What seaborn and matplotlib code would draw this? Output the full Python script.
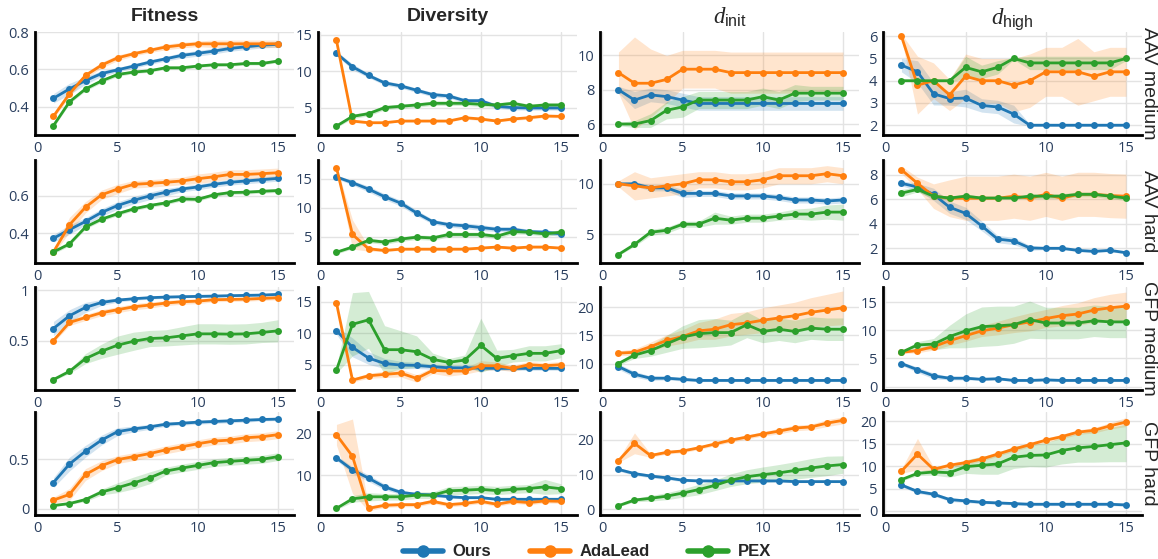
import numpy as np
import pandas as pd
import seaborn as sns
import matplotlib
matplotlib.use("Agg")
import matplotlib.pyplot as plt
from matplotlib.lines import Line2D

sns.set_theme(style="white")
plt.rcParams['font.family'] = ['Liberation Sans', 'DejaVu Sans']
plt.rcParams['mathtext.fontset'] = 'custom'
plt.rcParams['mathtext.rm'] = 'Liberation Sans'
plt.rcParams['mathtext.it'] = 'Liberation Serif:italic'
plt.rcParams['mathtext.bf'] = 'Liberation Sans:bold'

# ---------------- data ----------------
ROUNDS = list(range(1, 16))
METHODS = ["Ours", "AdaLead", "PEX"]
COLORS = ["#1f77b4", "#ff7f0e", "#2ca02c"]
METRIC_TITLES = ["Fitness", "Diversity", r"$d_{\mathrm{init}}$", r"$d_{\mathrm{high}}$"]
TASKS = ["AAV medium", "AAV hard", "GFP medium", "GFP hard"]
X_TICKS = [0, 5, 10, 15]

# Fitness
FIT_AAVM_OURS = [0.446, 0.496, 0.541, 0.578, 0.598, 0.618, 0.639, 0.657, 0.675, 0.686, 0.698, 0.712, 0.721, 0.730, 0.734]
FIT_AAVM_ADA = [0.350, 0.470, 0.568, 0.623, 0.662, 0.684, 0.702, 0.720, 0.730, 0.737, 0.737, 0.737, 0.737, 0.737, 0.737]
FIT_AAVM_PEX = [0.300, 0.427, 0.496, 0.539, 0.573, 0.586, 0.593, 0.609, 0.609, 0.618, 0.625, 0.625, 0.632, 0.632, 0.645]
FIT_AAVM_OURS_SD = [0.025, 0.03, 0.02, 0.015, 0.012, 0.012, 0.012, 0.012, 0.015, 0.015, 0.015, 0.015, 0.015, 0.015, 0.015]
FIT_AAVM_ADA_SD = [0.01, 0.015, 0.015, 0.015, 0.015, 0.012, 0.012, 0.015, 0.015, 0.015, 0.02, 0.02, 0.02, 0.02, 0.02]
FIT_AAVM_PEX_SD = [0.01, 0.01, 0.01, 0.01, 0.01, 0.008, 0.008, 0.008, 0.008, 0.008, 0.008, 0.008, 0.008, 0.008, 0.008]

FIT_AAVH_OURS = [0.372, 0.418, 0.462, 0.510, 0.547, 0.575, 0.598, 0.618, 0.635, 0.646, 0.660, 0.671, 0.678, 0.685, 0.692]
FIT_AAVH_ADA = [0.299, 0.444, 0.538, 0.604, 0.635, 0.660, 0.665, 0.671, 0.678, 0.690, 0.700, 0.713, 0.713, 0.717, 0.722]
FIT_AAVH_PEX = [0.299, 0.342, 0.432, 0.474, 0.503, 0.529, 0.547, 0.561, 0.582, 0.580, 0.604, 0.616, 0.618, 0.623, 0.627]
FIT_AAVH_OURS_SD = [0.02, 0.025, 0.02, 0.02, 0.02, 0.02, 0.02, 0.02, 0.015, 0.015, 0.015, 0.015, 0.015, 0.015, 0.015]
FIT_AAVH_ADA_SD = [0.01, 0.04, 0.03, 0.025, 0.025, 0.02, 0.02, 0.02, 0.02, 0.025, 0.025, 0.025, 0.025, 0.025, 0.025]
FIT_AAVH_PEX_SD = [0.01, 0.01, 0.01, 0.01, 0.01, 0.01, 0.01, 0.01, 0.01, 0.01, 0.01, 0.01, 0.01, 0.01, 0.01]

FIT_GFPM_OURS = [0.619, 0.745, 0.828, 0.877, 0.900, 0.914, 0.924, 0.930, 0.934, 0.937, 0.940, 0.944, 0.947, 0.950, 0.957]
FIT_GFPM_ADA = [0.500, 0.679, 0.728, 0.775, 0.805, 0.834, 0.851, 0.871, 0.884, 0.890, 0.904, 0.907, 0.910, 0.917, 0.924]
FIT_GFPM_PEX = [0.113, 0.195, 0.321, 0.394, 0.454, 0.493, 0.520, 0.526, 0.546, 0.566, 0.566, 0.563, 0.566, 0.580, 0.596]
FIT_GFPM_OURS_SD = [0.07, 0.06, 0.05, 0.03, 0.02, 0.015, 0.015, 0.012, 0.012, 0.01, 0.01, 0.01, 0.01, 0.01, 0.01]
FIT_GFPM_ADA_SD = [0.02, 0.03, 0.03, 0.03, 0.03, 0.03, 0.03, 0.025, 0.025, 0.025, 0.02, 0.02, 0.02, 0.02, 0.02]
FIT_GFPM_PEX_SD = [0.01, 0.02, 0.05, 0.07, 0.09, 0.09, 0.08, 0.08, 0.09, 0.10, 0.10, 0.10, 0.10, 0.10, 0.11]

FIT_GFPH_OURS = [0.264, 0.452, 0.582, 0.695, 0.781, 0.808, 0.829, 0.856, 0.866, 0.877, 0.884, 0.890, 0.897, 0.904, 0.908]
FIT_GFPH_ADA = [0.086, 0.144, 0.346, 0.435, 0.497, 0.527, 0.558, 0.596, 0.627, 0.658, 0.685, 0.695, 0.719, 0.729, 0.750]
FIT_GFPH_PEX = [0.031, 0.051, 0.092, 0.168, 0.212, 0.260, 0.312, 0.380, 0.411, 0.438, 0.466, 0.479, 0.490, 0.500, 0.527]
FIT_GFPH_OURS_SD = [0.05, 0.07, 0.06, 0.05, 0.04, 0.03, 0.025, 0.02, 0.02, 0.02, 0.02, 0.02, 0.02, 0.015, 0.015]
FIT_GFPH_ADA_SD = [0.03, 0.06, 0.06, 0.05, 0.04, 0.04, 0.04, 0.04, 0.04, 0.04, 0.04, 0.04, 0.04, 0.04, 0.04]
FIT_GFPH_PEX_SD = [0.01, 0.01, 0.02, 0.03, 0.05, 0.06, 0.06, 0.04, 0.04, 0.04, 0.04, 0.04, 0.04, 0.04, 0.04]

# Diversity
DIV_AAVM_OURS = [12.48, 10.64, 9.45, 8.44, 8.03, 7.43, 6.83, 6.65, 6.0, 6.0, 5.23, 5.05, 5.0, 5.0, 5.0]
DIV_AAVM_ADA = [14.27, 3.21, 2.98, 2.98, 3.21, 3.21, 3.21, 3.21, 3.67, 3.49, 3.21, 3.49, 3.67, 3.9, 3.85]
DIV_AAVM_PEX = [2.52, 3.85, 4.22, 5.05, 5.23, 5.41, 5.64, 5.64, 5.64, 5.5, 5.41, 5.64, 5.23, 5.41, 5.41]
DIV_AAVM_OURS_SD = [0.3, 0.4, 0.3, 0.3, 0.3, 0.3, 0.3, 0.3, 0.3, 0.3, 0.3, 0.3, 0.3, 0.3, 0.3]
DIV_AAVM_ADA_SD = [0.2, 0.2, 0.1, 0.1, 0.1, 0.1, 0.1, 0.1, 0.2, 0.2, 0.1, 0.2, 0.2, 0.2, 0.2]
DIV_AAVM_PEX_SD = [0.2, 0.3, 0.3, 0.3, 0.3, 0.3, 0.3, 0.3, 0.3, 0.3, 0.3, 0.3, 0.3, 0.3, 0.3]

DIV_AAVH_OURS = [15.3, 14.3, 13.2, 11.9, 10.8, 9.1, 7.6, 7.1, 6.9, 6.6, 6.3, 6.3, 5.9, 5.8, 5.5]
DIV_AAVH_ADA = [16.9, 5.4, 2.94, 2.65, 2.88, 2.88, 2.88, 2.88, 2.88, 3.06, 3.24, 3.06, 3.24, 3.24, 3.06]
DIV_AAVH_PEX = [2.35, 3.24, 4.4, 4.1, 4.6, 4.94, 4.8, 5.4, 5.4, 5.4, 5.1, 5.9, 5.8, 5.5, 5.8]
DIV_AAVH_OURS_SD = [0.3, 0.4, 0.5, 0.5, 0.5, 0.5, 0.4, 0.4, 0.5, 0.5, 0.4, 0.4, 0.4, 0.4, 0.4]
DIV_AAVH_ADA_SD = [0.3, 2.5, 0.4, 0.2, 0.2, 0.2, 0.2, 0.2, 0.2, 0.2, 0.2, 0.2, 0.2, 0.2, 0.2]
DIV_AAVH_PEX_SD = [0.3, 0.3, 0.4, 0.4, 0.4, 0.4, 0.4, 0.4, 0.4, 0.4, 0.4, 0.4, 0.4, 0.4, 0.4]

DIV_GFPM_OURS = [10.4, 7.75, 6.06, 5.2, 4.95, 4.9, 4.68, 4.52, 4.52, 4.47, 4.42, 4.42, 4.42, 4.42, 4.42]
DIV_GFPM_ADA = [14.8, 2.57, 3.25, 3.47, 3.68, 2.83, 4.1, 4.0, 4.0, 4.84, 4.84, 4.42, 5.0, 4.84, 5.0]
DIV_GFPM_PEX = [4.15, 11.4, 12.1, 7.38, 7.38, 7.06, 5.85, 5.37, 5.74, 8.07, 6.0, 6.43, 6.8, 6.8, 7.22]
DIV_GFPM_OURS_SD = [0.6, 1.5, 1.0, 0.8, 0.6, 0.5, 0.4, 0.3, 0.3, 0.3, 0.3, 0.3, 0.3, 0.3, 0.3]
DIV_GFPM_ADA_SD = [0.3, 0.3, 0.4, 0.5, 0.6, 0.6, 0.5, 0.8, 0.5, 0.8, 0.6, 0.5, 0.5, 0.5, 0.5]
DIV_GFPM_PEX_SD = [0.5, 5.0, 4.5, 3.8, 3.0, 2.5, 1.0, 0.6, 0.8, 4.3, 1.3, 1.0, 1.2, 1.2, 1.1]

DIV_GFPH_OURS = [14.2, 11.3, 9.3, 7.2, 5.9, 5.4, 5.25, 4.8, 4.6, 4.6, 4.2, 4.2, 4.2, 4.2, 4.2]
DIV_GFPH_ADA = [19.8, 14.6, 2.0, 2.75, 2.9, 2.9, 3.7, 2.9, 3.2, 3.7, 3.0, 3.7, 3.4, 3.8, 3.7]
DIV_GFPH_PEX = [2.0, 4.3, 4.8, 4.8, 4.8, 5.2, 5.2, 6.25, 6.4, 6.6, 6.3, 6.6, 6.8, 7.2, 6.75]
DIV_GFPH_OURS_SD = [0.6, 0.8, 0.8, 0.7, 0.5, 0.4, 0.4, 0.3, 0.3, 0.3, 0.3, 0.3, 0.3, 0.3, 0.3]
DIV_GFPH_ADA_SD = [2.5, 9.0, 0.6, 0.5, 0.5, 0.5, 0.5, 0.5, 0.5, 0.5, 0.5, 0.5, 0.5, 0.5, 0.5]
DIV_GFPH_PEX_SD = [0.3, 0.8, 1.0, 0.8, 0.8, 0.8, 0.8, 1.0, 1.0, 1.0, 1.0, 1.0, 1.0, 1.8, 1.2]

# d_init
DINIT_AAVM_OURS = [8.0, 7.4, 7.7, 7.6, 7.4, 7.2, 7.2, 7.2, 7.2, 7.2, 7.2, 7.2, 7.2, 7.2, 7.2]
DINIT_AAVM_ADA = [9.0, 8.38, 8.38, 8.6, 9.2, 9.2, 9.2, 9.0, 9.0, 9.0, 9.0, 9.0, 9.0, 9.0, 9.0]
DINIT_AAVM_PEX = [6.0, 6.0, 6.2, 6.8, 7.0, 7.4, 7.4, 7.4, 7.4, 7.6, 7.4, 7.8, 7.8, 7.8, 7.8]
DINIT_AAVM_OURS_SD = [0.2, 0.5, 0.4, 0.4, 0.4, 0.4, 0.4, 0.4, 0.4, 0.4, 0.4, 0.4, 0.4, 0.4, 0.4]
DINIT_AAVM_ADA_SD = [1.2, 2.7, 2.0, 1.4, 1.1, 1.1, 1.1, 1.2, 1.2, 1.2, 1.2, 1.2, 1.2, 1.2, 1.2]
DINIT_AAVM_PEX_SD = [0.1, 0.2, 0.4, 0.5, 0.6, 0.5, 0.5, 0.5, 0.5, 0.5, 0.5, 0.5, 0.4, 0.4, 0.4]

DINIT_AAVH_OURS = [10.0, 10.0, 9.6, 9.6, 9.05, 9.05, 9.05, 8.8, 8.8, 8.8, 8.65, 8.4, 8.4, 8.3, 8.4]
DINIT_AAVH_ADA = [10.0, 9.8, 9.6, 9.8, 10.0, 10.4, 10.4, 10.2, 10.2, 10.4, 10.8, 10.8, 10.8, 11.0, 10.8]
DINIT_AAVH_PEX = [3.0, 4.0, 5.2, 5.4, 6.0, 6.0, 6.6, 6.4, 6.6, 6.6, 6.8, 7.0, 7.0, 7.2, 7.2]
DINIT_AAVH_OURS_SD = [0.1, 0.2, 0.3, 0.3, 0.4, 0.3, 0.3, 0.3, 0.3, 0.3, 0.3, 0.3, 0.3, 0.3, 0.3]
DINIT_AAVH_ADA_SD = [0.3, 1.4, 1.0, 1.0, 1.0, 0.8, 0.8, 0.8, 0.8, 0.8, 0.8, 0.8, 0.8, 0.8, 0.8]
DINIT_AAVH_PEX_SD = [0.1, 0.2, 0.3, 0.3, 0.3, 0.3, 0.6, 0.4, 0.4, 0.4, 0.4, 0.5, 0.6, 0.7, 0.8]

DINIT_GFPM_OURS = [9.46, 8.1, 7.4, 7.4, 7.2, 7.0, 7.0, 7.0, 7.0, 7.0, 7.0, 7.0, 7.0, 7.0, 7.0]
DINIT_GFPM_ADA = [11.85, 12.0, 13.0, 14.1, 14.8, 15.8, 16.1, 16.9, 17.2, 17.7, 18.1, 18.5, 19.1, 19.5, 19.9]
DINIT_GFPM_PEX = [10.0, 11.5, 12.3, 13.5, 14.7, 15.3, 15.5, 15.5, 16.9, 15.7, 16.1, 15.7, 16.3, 16.1, 16.1]
DINIT_GFPM_OURS_SD = [0.5, 0.5, 0.4, 0.3, 0.3, 0.2, 0.2, 0.2, 0.2, 0.2, 0.2, 0.2, 0.2, 0.2, 0.2]
DINIT_GFPM_ADA_SD = [0.4, 0.6, 0.8, 1.0, 1.2, 1.5, 1.8, 2.0, 2.0, 2.2, 2.3, 2.4, 2.6, 2.8, 3.0]
DINIT_GFPM_PEX_SD = [0.3, 0.6, 1.0, 1.5, 2.0, 2.5, 2.5, 2.2, 2.3, 2.0, 2.0, 2.0, 2.0, 2.0, 2.0]

DINIT_GFPH_OURS = [11.5, 10.3, 9.6, 9.1, 8.4, 8.2, 8.2, 8.2, 8.2, 8.2, 8.2, 8.0, 8.0, 8.0, 8.0]
DINIT_GFPH_ADA = [14.0, 19.0, 15.5, 16.4, 16.8, 17.7, 18.8, 19.9, 20.8, 21.7, 22.5, 23.4, 23.7, 24.8, 25.6]
DINIT_GFPH_PEX = [1.06, 2.7, 3.2, 3.8, 4.7, 5.7, 6.9, 8.4, 9.4, 10.0, 10.5, 11.2, 11.9, 12.5, 12.9]
DINIT_GFPH_OURS_SD = [0.5, 0.5, 0.5, 0.5, 0.4, 0.3, 0.3, 0.3, 0.3, 0.3, 0.3, 0.3, 0.3, 0.3, 0.3]
DINIT_GFPH_ADA_SD = [0.5, 3.0, 0.5, 0.5, 0.5, 0.5, 0.5, 0.6, 0.6, 0.6, 0.8, 0.8, 0.8, 1.0, 1.0]
DINIT_GFPH_PEX_SD = [0.3, 0.5, 0.8, 1.0, 1.2, 1.5, 1.5, 1.8, 2.0, 2.2, 2.4, 2.5, 2.7, 2.8, 2.5]

# d_high
DHIGH_AAVM_OURS = [4.7, 4.4, 3.41, 3.2, 3.22, 2.89, 2.82, 2.5, 2.0, 2.0, 2.0, 2.0, 2.0, 2.0, 2.0]
DHIGH_AAVM_ADA = [6.0, 3.8, 4.0, 3.36, 4.2, 4.0, 4.0, 3.8, 4.0, 4.4, 4.4, 4.4, 4.2, 4.4, 4.4]
DHIGH_AAVM_PEX = [4.0, 4.0, 4.0, 4.0, 4.6, 4.4, 4.6, 5.0, 4.8, 4.8, 4.8, 4.8, 4.8, 4.8, 5.0]
DHIGH_AAVM_OURS_SD = [0.3, 0.5, 0.5, 0.3, 0.4, 0.3, 0.3, 0.4, 0.05, 0.05, 0.05, 0.05, 0.05, 0.05, 0.05]
DHIGH_AAVM_ADA_SD = [0.1, 1.3, 0.8, 0.7, 1.0, 1.0, 1.0, 1.2, 1.2, 1.1, 1.1, 1.5, 1.1, 1.1, 1.1]
DHIGH_AAVM_PEX_SD = [0.05, 0.05, 0.05, 0.05, 0.5, 0.3, 0.3, 0.05, 0.3, 0.3, 0.3, 0.3, 0.3, 0.3, 0.1]

DHIGH_AAVH_OURS = [7.3, 7.0, 6.4, 5.35, 4.85, 3.83, 2.75, 2.6, 2.03, 2.0, 2.0, 1.83, 1.75, 1.83, 1.64]
DHIGH_AAVH_ADA = [8.4, 7.3, 6.25, 6.08, 6.08, 6.08, 6.08, 6.25, 6.08, 6.4, 6.08, 6.4, 6.4, 6.3, 6.25]
DHIGH_AAVH_PEX = [6.5, 6.8, 6.25, 6.1, 6.25, 6.1, 6.1, 6.1, 6.25, 6.25, 6.25, 6.4, 6.4, 6.25, 6.1]
DHIGH_AAVH_OURS_SD = [0.2, 0.3, 0.5, 0.5, 0.5, 0.4, 0.3, 0.3, 0.2, 0.1, 0.1, 0.1, 0.1, 0.1, 0.1]
DHIGH_AAVH_ADA_SD = [0.3, 0.5, 1.0, 1.5, 1.8, 1.8, 1.8, 1.8, 1.8, 1.8, 1.8, 1.8, 1.8, 1.8, 1.8]
DHIGH_AAVH_PEX_SD = [0.3, 0.2, 0.2, 0.1, 0.2, 0.1, 0.1, 0.1, 0.2, 0.2, 0.2, 0.2, 0.2, 0.2, 0.2]

DHIGH_GFPM_OURS = [4.1, 3.0, 1.9, 1.5, 1.5, 1.3, 1.4, 1.1, 1.1, 1.2, 1.1, 1.1, 1.1, 1.1, 1.1]
DHIGH_GFPM_ADA = [6.1, 6.4, 7.1, 8.15, 9.05, 9.9, 10.4, 11.0, 11.5, 12.1, 12.6, 12.9, 13.6, 14.0, 14.3]
DHIGH_GFPM_PEX = [6.1, 7.4, 7.55, 8.9, 9.9, 10.65, 10.8, 11.0, 11.9, 11.3, 11.3, 11.3, 11.7, 11.5, 11.5]
DHIGH_GFPM_OURS_SD = [0.3, 0.5, 0.5, 0.3, 0.3, 0.2, 0.2, 0.2, 0.2, 0.2, 0.2, 0.2, 0.2, 0.2, 0.2]
DHIGH_GFPM_ADA_SD = [0.2, 0.4, 0.6, 0.8, 1.0, 1.0, 1.2, 1.4, 1.6, 1.6, 1.8, 2.0, 2.2, 2.4, 2.5]
DHIGH_GFPM_PEX_SD = [0.2, 0.6, 1.0, 2.0, 3.0, 3.5, 3.5, 3.3, 3.3, 2.8, 2.8, 2.8, 2.8, 2.8, 2.8]

DHIGH_GFPH_OURS = [5.8, 4.35, 3.75, 2.55, 2.25, 1.95, 1.8, 1.65, 1.5, 1.5, 1.5, 1.5, 1.5, 1.5, 1.35]
DHIGH_GFPH_ADA = [8.9, 12.7, 9.3, 10.2, 10.8, 11.6, 12.7, 13.8, 14.8, 15.8, 16.6, 17.6, 18.0, 19.0, 19.85]
DHIGH_GFPH_PEX = [7.0, 8.4, 8.7, 8.55, 9.9, 10.2, 10.5, 12.0, 12.4, 12.5, 13.5, 14.1, 14.4, 14.8, 15.2]
DHIGH_GFPH_OURS_SD = [0.4, 0.4, 0.4, 0.4, 0.4, 0.3, 0.3, 0.3, 0.3, 0.3, 0.3, 0.3, 0.3, 0.3, 0.3]
DHIGH_GFPH_ADA_SD = [0.5, 3.5, 0.5, 0.5, 0.5, 0.5, 0.5, 0.5, 0.5, 0.5, 0.5, 0.5, 0.6, 0.7, 1.0]
DHIGH_GFPH_PEX_SD = [0.3, 0.5, 0.7, 1.0, 1.5, 2.0, 2.3, 2.5, 2.5, 2.7, 3.0, 3.2, 3.5, 3.8, 4.2]

# y ticks per panel [row][col]
Y_TICKS = [
    [[0.4, 0.6, 0.8], [5, 10, 15], [6, 8, 10], [2, 3, 4, 5, 6]],
    [[0.4, 0.6], [5, 10, 15], [5, 10], [2, 4, 6, 8]],
    [[0.5, 1], [5, 10, 15], [10, 15, 20], [0, 5, 10, 15]],
    [[0, 0.5], [10, 20], [0, 10, 20], [0, 5, 10, 15, 20]],
]
Y_TICKLABELS = [
    [["0.4", "0.6", "0.8"], ["5", "10", "15"], ["6", "8", "10"], ["2", "3", "4", "5", "6"]],
    [["0.4", "0.6"], ["5", "10", "15"], ["5", "10"], ["2", "4", "6", "8"]],
    [["0.5", "1"], ["5", "10", "15"], ["10", "15", "20"], ["0", "5", "10", "15"]],
    [["0", "0.5"], ["10", "20"], ["0", "10", "20"], ["0", "5", "10", "15", "20"]],
]
Y_LIMS = [
    [(0.25, 0.80), (1.3, 15.4), (5.36, 11.37), (1.56, 6.19)],
    [(0.24, 0.79), (0.5, 18.2), (2.16, 12.36), (0.8, 9.2)],
    [(0.01, 1.03), (1.0, 17.3), (5.3, 23.6), (-0.6, 17.7)],
    [(-0.065, 0.98), (0.4, 25.3), (-1.6, 28.0), (-0.9, 22.1)],
]

PANELS = [
    [
        [(FIT_AAVM_OURS, FIT_AAVM_OURS_SD), (FIT_AAVM_ADA, FIT_AAVM_ADA_SD), (FIT_AAVM_PEX, FIT_AAVM_PEX_SD)],
        [(DIV_AAVM_OURS, DIV_AAVM_OURS_SD), (DIV_AAVM_ADA, DIV_AAVM_ADA_SD), (DIV_AAVM_PEX, DIV_AAVM_PEX_SD)],
        [(DINIT_AAVM_OURS, DINIT_AAVM_OURS_SD), (DINIT_AAVM_ADA, DINIT_AAVM_ADA_SD), (DINIT_AAVM_PEX, DINIT_AAVM_PEX_SD)],
        [(DHIGH_AAVM_OURS, DHIGH_AAVM_OURS_SD), (DHIGH_AAVM_ADA, DHIGH_AAVM_ADA_SD), (DHIGH_AAVM_PEX, DHIGH_AAVM_PEX_SD)],
    ],
    [
        [(FIT_AAVH_OURS, FIT_AAVH_OURS_SD), (FIT_AAVH_ADA, FIT_AAVH_ADA_SD), (FIT_AAVH_PEX, FIT_AAVH_PEX_SD)],
        [(DIV_AAVH_OURS, DIV_AAVH_OURS_SD), (DIV_AAVH_ADA, DIV_AAVH_ADA_SD), (DIV_AAVH_PEX, DIV_AAVH_PEX_SD)],
        [(DINIT_AAVH_OURS, DINIT_AAVH_OURS_SD), (DINIT_AAVH_ADA, DINIT_AAVH_ADA_SD), (DINIT_AAVH_PEX, DINIT_AAVH_PEX_SD)],
        [(DHIGH_AAVH_OURS, DHIGH_AAVH_OURS_SD), (DHIGH_AAVH_ADA, DHIGH_AAVH_ADA_SD), (DHIGH_AAVH_PEX, DHIGH_AAVH_PEX_SD)],
    ],
    [
        [(FIT_GFPM_OURS, FIT_GFPM_OURS_SD), (FIT_GFPM_ADA, FIT_GFPM_ADA_SD), (FIT_GFPM_PEX, FIT_GFPM_PEX_SD)],
        [(DIV_GFPM_OURS, DIV_GFPM_OURS_SD), (DIV_GFPM_ADA, DIV_GFPM_ADA_SD), (DIV_GFPM_PEX, DIV_GFPM_PEX_SD)],
        [(DINIT_GFPM_OURS, DINIT_GFPM_OURS_SD), (DINIT_GFPM_ADA, DINIT_GFPM_ADA_SD), (DINIT_GFPM_PEX, DINIT_GFPM_PEX_SD)],
        [(DHIGH_GFPM_OURS, DHIGH_GFPM_OURS_SD), (DHIGH_GFPM_ADA, DHIGH_GFPM_ADA_SD), (DHIGH_GFPM_PEX, DHIGH_GFPM_PEX_SD)],
    ],
    [
        [(FIT_GFPH_OURS, FIT_GFPH_OURS_SD), (FIT_GFPH_ADA, FIT_GFPH_ADA_SD), (FIT_GFPH_PEX, FIT_GFPH_PEX_SD)],
        [(DIV_GFPH_OURS, DIV_GFPH_OURS_SD), (DIV_GFPH_ADA, DIV_GFPH_ADA_SD), (DIV_GFPH_PEX, DIV_GFPH_PEX_SD)],
        [(DINIT_GFPH_OURS, DINIT_GFPH_OURS_SD), (DINIT_GFPH_ADA, DINIT_GFPH_ADA_SD), (DINIT_GFPH_PEX, DINIT_GFPH_PEX_SD)],
        [(DHIGH_GFPH_OURS, DHIGH_GFPH_OURS_SD), (DHIGH_GFPH_ADA, DHIGH_GFPH_ADA_SD), (DHIGH_GFPH_PEX, DHIGH_GFPH_PEX_SD)],
    ],
]

# ---------------- layout ----------------
W, H = 1158, 559
fig = plt.figure(figsize=(W / 100, H / 100), dpi=100)
COL_LEFT = [35, 318, 600, 883]
COL_W = 259
ROW_TOP = [32, 160, 287, 412]
ROW_H = 103
TICK_COLOR = "#2a3f5f"

x = np.array(ROUNDS)
for r in range(4):
    for c in range(4):
        ax = fig.add_axes([COL_LEFT[c] / W, 1 - (ROW_TOP[r] + ROW_H) / H, COL_W / W, ROW_H / H])
        ax.set_facecolor("white")
        for m, (vals, sd) in enumerate(PANELS[r][c]):
            v = np.array(vals)
            s = np.array(sd)
            ax.fill_between(x, v - s, v + s, color=COLORS[m], alpha=0.2, linewidth=0, zorder=1)
        for m, (vals, sd) in enumerate(PANELS[r][c]):
            df = pd.DataFrame({"round": ROUNDS, "value": vals})
            sns.lineplot(data=df, x="round", y="value", ax=ax, color=COLORS[m],
                         marker="o", markersize=5, markeredgewidth=0, linewidth=2.0,
                         zorder=3 + m, legend=False)
        ax.set_xlim(-0.15, 16)
        ax.set_ylim(*Y_LIMS[r][c])
        ax.set_xticks(X_TICKS)
        ax.set_yticks(Y_TICKS[r][c])
        ax.set_yticklabels(Y_TICKLABELS[r][c])
        ax.set_xlabel("")
        ax.set_ylabel("")
        ax.grid(True, color="#e3e3e3", linewidth=1.0, zorder=0)
        ax.set_axisbelow(True)
        for side in ["top", "right"]:
            ax.spines[side].set_visible(False)
        for side in ["left", "bottom"]:
            ax.spines[side].set_color("black")
            ax.spines[side].set_linewidth(2.0)
        ax.tick_params(axis="both", length=0, labelsize=10.5, labelcolor=TICK_COLOR, pad=4)
        for lab in ax.get_xticklabels() + ax.get_yticklabels():
            lab.set_family(["Open Sans", "DejaVu Sans"])
        if r == 0:
            if c < 2:
                ax.set_title(METRIC_TITLES[c], fontsize=14, fontweight="bold", pad=8)
            else:
                ax.set_title(METRIC_TITLES[c], fontsize=16.5, pad=6)
        if c == 3:
            yc = 1 - (ROW_TOP[r] + ROW_H / 2) / H
            fig.text(1157.5 / W, yc, TASKS[r], rotation=270, ha="right", va="center", fontsize=14)

handles = [Line2D([0], [0], color=COLORS[m], lw=4, marker="o", markersize=8) for m in range(3)]
fig.legend(handles, METHODS, loc="center", bbox_to_anchor=(0.507, 1 - 552 / H), ncol=3,
           frameon=False, prop={"weight": "bold", "size": 12}, handlelength=2.4,
           handletextpad=0.6, columnspacing=2.3)

fig.savefig("out.png", dpi=100)
